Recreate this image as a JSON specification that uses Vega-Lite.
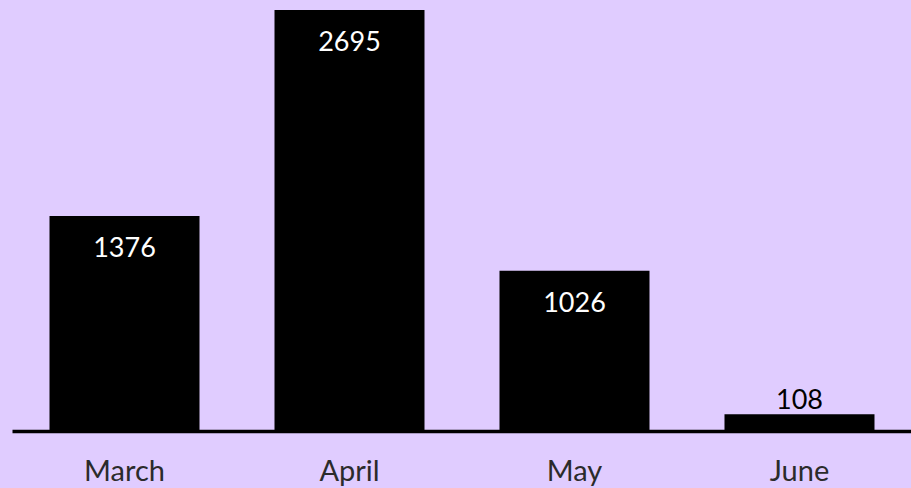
{
  "$schema": "https://vega.github.io/schema/vega-lite/v6.json",
  "autosize": {"type": "none"},
  "width": 900,
  "height": 431,
  "padding": {"left": 12, "top": 0, "right": 0, "bottom": 57},
  "background": "#E0CCFF",
  "config": {"view": {"stroke": null}, "font": "Lato"},
  "data": {"values": [
    {"month": "March", "value": 1376},
    {"month": "April", "value": 2695},
    {"month": "May", "value": 1026},
    {"month": "June", "value": 108}
  ]},
  "encoding": {
    "x": {"field": "month", "type": "nominal", "sort": null,
      "scale": {"paddingInner": 0.3333, "paddingOuter": 0.1667},
      "axis": {"title": null, "ticks": false, "labelAngle": 0, "labelFontSize": 29, "labelColor": "#2b2b2b", "labelPadding": 26, "domainColor": "#000000", "domainWidth": 3.5, "labelFont": "Lato"}},
    "y": {"field": "value", "type": "quantitative", "scale": {"domain": [0, 2759], "nice": false}, "axis": null}
  },
  "layer": [
    {"mark": {"type": "bar", "color": "#000000"}},
    {"transform": [{"filter": "datum.value > 200"}],
     "mark": {"type": "text", "color": "#FFFFFF", "fontSize": 27, "baseline": "middle", "dy": 33}, "encoding": {"text": {"field": "value", "type": "quantitative"}}},
    {"transform": [{"filter": "datum.value <= 200"}],
     "mark": {"type": "text", "color": "#000000", "fontSize": 27, "baseline": "middle", "dy": -13}, "encoding": {"text": {"field": "value", "type": "quantitative"}}}
  ]
}
